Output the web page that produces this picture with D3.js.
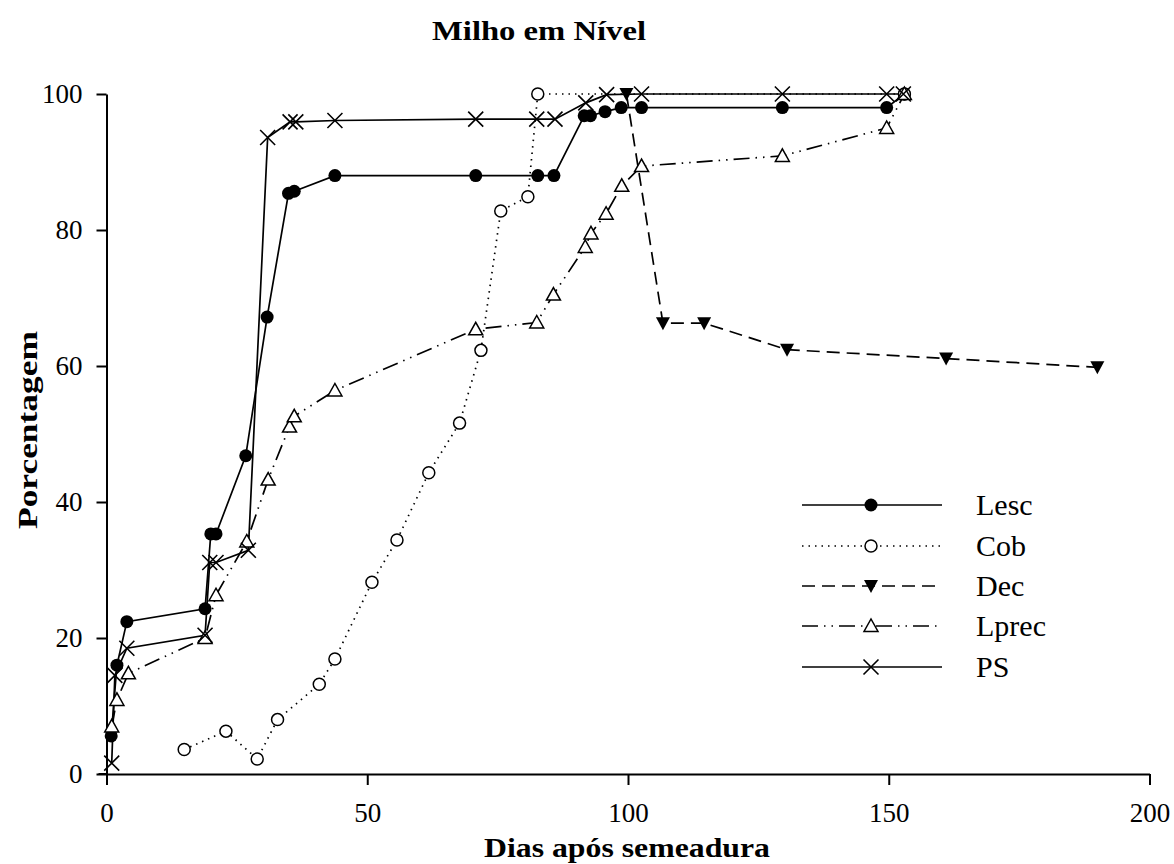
<!DOCTYPE html>
<html>
<head>
<meta charset="utf-8">
<script src="https://cdn.jsdelivr.net/npm/d3@7"></script>
<style>
body{margin:0;background:#fff;}
</style>
</head>
<body>
<svg id="chart" width="1174" height="864" font-family="Liberation Serif"></svg>
<script>
// ---- data ----
const xTicks = [0, 50, 100, 150, 200];
const yTicks = [0, 20, 40, 60, 80, 100];
const seriesNames = ["Lesc", "Cob", "Dec", "Lprec", "PS"];

const lescDays = [0.9, 2, 3.9, 18.9, 20, 21, 26.7, 30.8, 34.9, 36, 43.8, 70.8, 82.7, 85.8, 91.6, 92.8, 95.6, 98.7, 102.6, 129.6, 149.6, 153];
const lescVals = [5.6, 16.0, 22.4, 24.3, 35.3, 35.3, 46.8, 67.2, 85.4, 85.7, 88.0, 88.0, 88.0, 88.0, 96.8, 96.8, 97.4, 98.0, 98.0, 98.0, 98.0, 100];

const cobDays = [14.9, 22.9, 28.9, 32.8, 40.8, 43.8, 50.9, 55.7, 61.8, 67.7, 71.8, 75.6, 80.8, 82.7, 153];
const cobVals = [3.6, 6.3, 2.2, 8.0, 13.2, 16.9, 28.2, 34.4, 44.3, 51.6, 62.3, 82.8, 84.9, 100, 100];

const decDays = [99.7, 106.7, 114.6, 130.5, 161, 190];
const decVals = [100, 66.3, 66.3, 62.4, 61.1, 59.8];

const lprecDays = [1.0, 2.0, 4.2, 18.9, 21.0, 26.9, 31.0, 35.1, 36.0, 43.8, 70.8, 82.5, 85.7, 91.8, 92.9, 95.8, 98.8, 102.6, 129.6, 149.6, 153];
const lprecVals = [7.0, 10.9, 14.8, 20.0, 26.3, 34.2, 43.3, 51.1, 52.6, 56.4, 65.4, 66.4, 70.5, 77.5, 79.5, 82.4, 86.5, 89.4, 90.9, 95.0, 100];

const psDays = [1.0, 1.6, 3.9, 18.9, 19.8, 21, 27.2, 30.9, 35.2, 36.3, 43.8, 70.8, 82.5, 86.0, 91.9, 95.9, 102.6, 129.6, 149.6, 152.8];
const psVals = [1.6, 14.5, 18.5, 20.4, 31.1, 31.1, 32.9, 93.6, 95.9, 95.9, 96.1, 96.3, 96.3, 96.3, 98.7, 99.9, 100, 100, 100, 100];

// ---- build ----
const FONT = "Liberation Serif";
const zip = (d, v) => d.map((x, i) => ({x, y: v[i]}));
const series = [
  {name: "Lesc", pts: zip(lescDays, lescVals), dash: null, marker: "dot"},
  {name: "Cob", pts: zip(cobDays, cobVals), dash: "1.5,5", marker: "circle"},
  {name: "Dec", pts: zip(decDays, decVals), dash: "13,7", marker: "tridown"},
  {name: "Lprec", pts: zip(lprecDays, lprecVals), dash: "16,6,1.5,6,1.5,6", marker: "triup"},
  {name: "PS", pts: zip(psDays, psVals), dash: null, marker: "cross"}
];

const svg = d3.select("#chart");
const x = d3.scaleLinear().domain([0, 200]).range([106.5, 1149.5]);
const y = d3.scaleLinear().domain([0, 100]).range([774, 94]);

// title
svg.append("text").attr("x", 539).attr("y", 40).attr("text-anchor", "middle")
  .attr("font-family", FONT).attr("font-size", 28).attr("font-weight", "bold")
  .attr("textLength", 214).attr("lengthAdjust", "spacingAndGlyphs").text("Milho em Nível");

// axes
const xAxis = svg.append("g").attr("transform", `translate(0,${y(0)})`)
  .call(d3.axisBottom(x).tickValues(xTicks).tickSize(11).tickSizeOuter(0).tickPadding(18).tickFormat(d3.format("d")));
const yAxis = svg.append("g").attr("transform", `translate(${x(0)},0)`)
  .call(d3.axisLeft(y).tickValues(yTicks).tickSize(10).tickSizeOuter(0).tickPadding(14).tickFormat(d3.format("d")));
[xAxis, yAxis].forEach(g => {
  g.attr("font-family", FONT);
  g.select(".domain").attr("stroke", "#000").attr("stroke-width", 2);
  g.selectAll(".tick line").attr("stroke", "#000").attr("stroke-width", 2);
  g.selectAll(".tick text").attr("font-size", 27).attr("fill", "#000").attr("font-family", FONT);
});
svg.append("line").attr("x1", x(0) - 8).attr("x2", x(0)).attr("y1", y(0)).attr("y2", y(0))
  .attr("stroke", "#000").attr("stroke-width", 2);

// axis titles
svg.append("text").attr("x", 627).attr("y", 857).attr("text-anchor", "middle")
  .attr("font-family", FONT).attr("font-size", 28).attr("font-weight", "bold")
  .attr("textLength", 286).attr("lengthAdjust", "spacingAndGlyphs").text("Dias após semeadura");
svg.append("text").attr("transform", "translate(37,430) rotate(-90)").attr("text-anchor", "middle")
  .attr("font-family", FONT).attr("font-size", 28).attr("font-weight", "bold")
  .attr("textLength", 198).attr("lengthAdjust", "spacingAndGlyphs").text("Porcentagem");

// markers
function drawMarker(g, type, cx, cy) {
  if (type === "dot") {
    g.append("circle").attr("cx", cx).attr("cy", cy).attr("r", 6.5).attr("fill", "#000");
  } else if (type === "circle") {
    g.append("circle").attr("cx", cx).attr("cy", cy).attr("r", 6).attr("fill", "#fff")
      .attr("stroke", "#000").attr("stroke-width", 1.5);
  } else if (type === "tridown") {
    g.append("path").attr("d", `M${cx-7},${cy-6}L${cx+7},${cy-6}L${cx},${cy+7}Z`).attr("fill", "#000");
  } else if (type === "triup") {
    g.append("path").attr("d", `M${cx-7},${cy+5.5}L${cx+7},${cy+5.5}L${cx},${cy-7}Z`).attr("fill", "#fff")
      .attr("stroke", "#000").attr("stroke-width", 1.5);
  } else if (type === "cross") {
    g.append("path").attr("d", `M${cx-7.5},${cy-7.5}L${cx+7.5},${cy+7.5}M${cx-7.5},${cy+7.5}L${cx+7.5},${cy-7.5}`)
      .attr("stroke", "#000").attr("stroke-width", 1.6).attr("fill", "none");
  }
}

const line = d3.line().x(d => x(d.x)).y(d => y(d.y));
series.forEach(s => {
  svg.append("path").datum(s.pts).attr("d", line).attr("fill", "none").attr("stroke", "#000")
    .attr("stroke-width", 1.7).attr("stroke-dasharray", s.dash);
});
series.forEach(s => {
  const g = svg.append("g");
  s.pts.forEach(p => drawMarker(g, s.marker, x(p.x), y(p.y)));
});

// legend
const legY = [505, 546, 586, 626, 667];
series.forEach((s, i) => {
  const g = svg.append("g");
  g.append("line").attr("x1", 802).attr("x2", 942).attr("y1", legY[i]).attr("y2", legY[i])
    .attr("stroke", "#000").attr("stroke-width", 1.7).attr("stroke-dasharray", s.dash);
  drawMarker(g, s.marker, 871, legY[i]);
  g.append("text").attr("x", 976).attr("y", legY[i] + 10).attr("font-family", FONT)
    .attr("font-size", 30).text(seriesNames[i]);
});
</script>
</body>
</html>
